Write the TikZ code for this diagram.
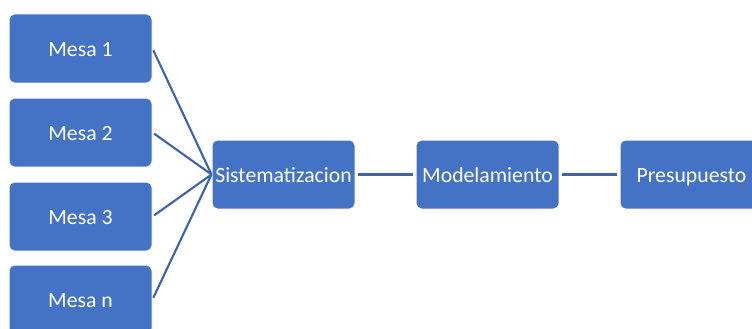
\documentclass[tikz,border=0pt]{standalone}
\usepackage{fontspec}
\setmainfont{Carlito}
\definecolor{boxblue}{HTML}{4472C4}
\definecolor{lineblue}{HTML}{3F63AA}
\begin{document}
\begin{tikzpicture}[x=0.75pt,y=-0.75pt,
  blk/.style={rectangle, rounded corners=4pt, fill=boxblue, draw=white, line width=0.75pt,
    minimum width=107.25pt, minimum height=51.75pt, inner sep=0pt, text=white,
    text height=11.7pt, text depth=0pt, font=\fontsize{16.3}{19}\selectfont},
  conn/.style={draw=lineblue, line width=1.6pt}]
\useasboundingbox (0,0) rectangle (752,328);
\clip (0,0) rectangle (752,328);
\node[blk] (m1) at (80.5,48.5) {Mesa 1};
\node[blk] (m2) at (80.5,132.5) {Mesa 2};
\node[blk] (m3) at (80.5,216.5) {Mesa 3};
\node[blk] (mn) at (80.5,299.5) {Mesa n};
\node[blk] (sis) at (283.5,174.5) {Sistematizacion};
\node[blk] (mod) at (487.5,174.5) {Modelamiento};
\node[blk] (pre) at (691.5,174.5) {Presupuesto};
\foreach \m in {m1,m2,m3,mn}{
  \draw[conn, shorten <=1.5pt] (\m.east) -- (sis.west);
}
\draw[conn, shorten <=2pt, shorten >=2pt] (sis) -- (mod);
\draw[conn, shorten <=2pt, shorten >=2pt] (mod) -- (pre);
\end{tikzpicture}
\end{document}
